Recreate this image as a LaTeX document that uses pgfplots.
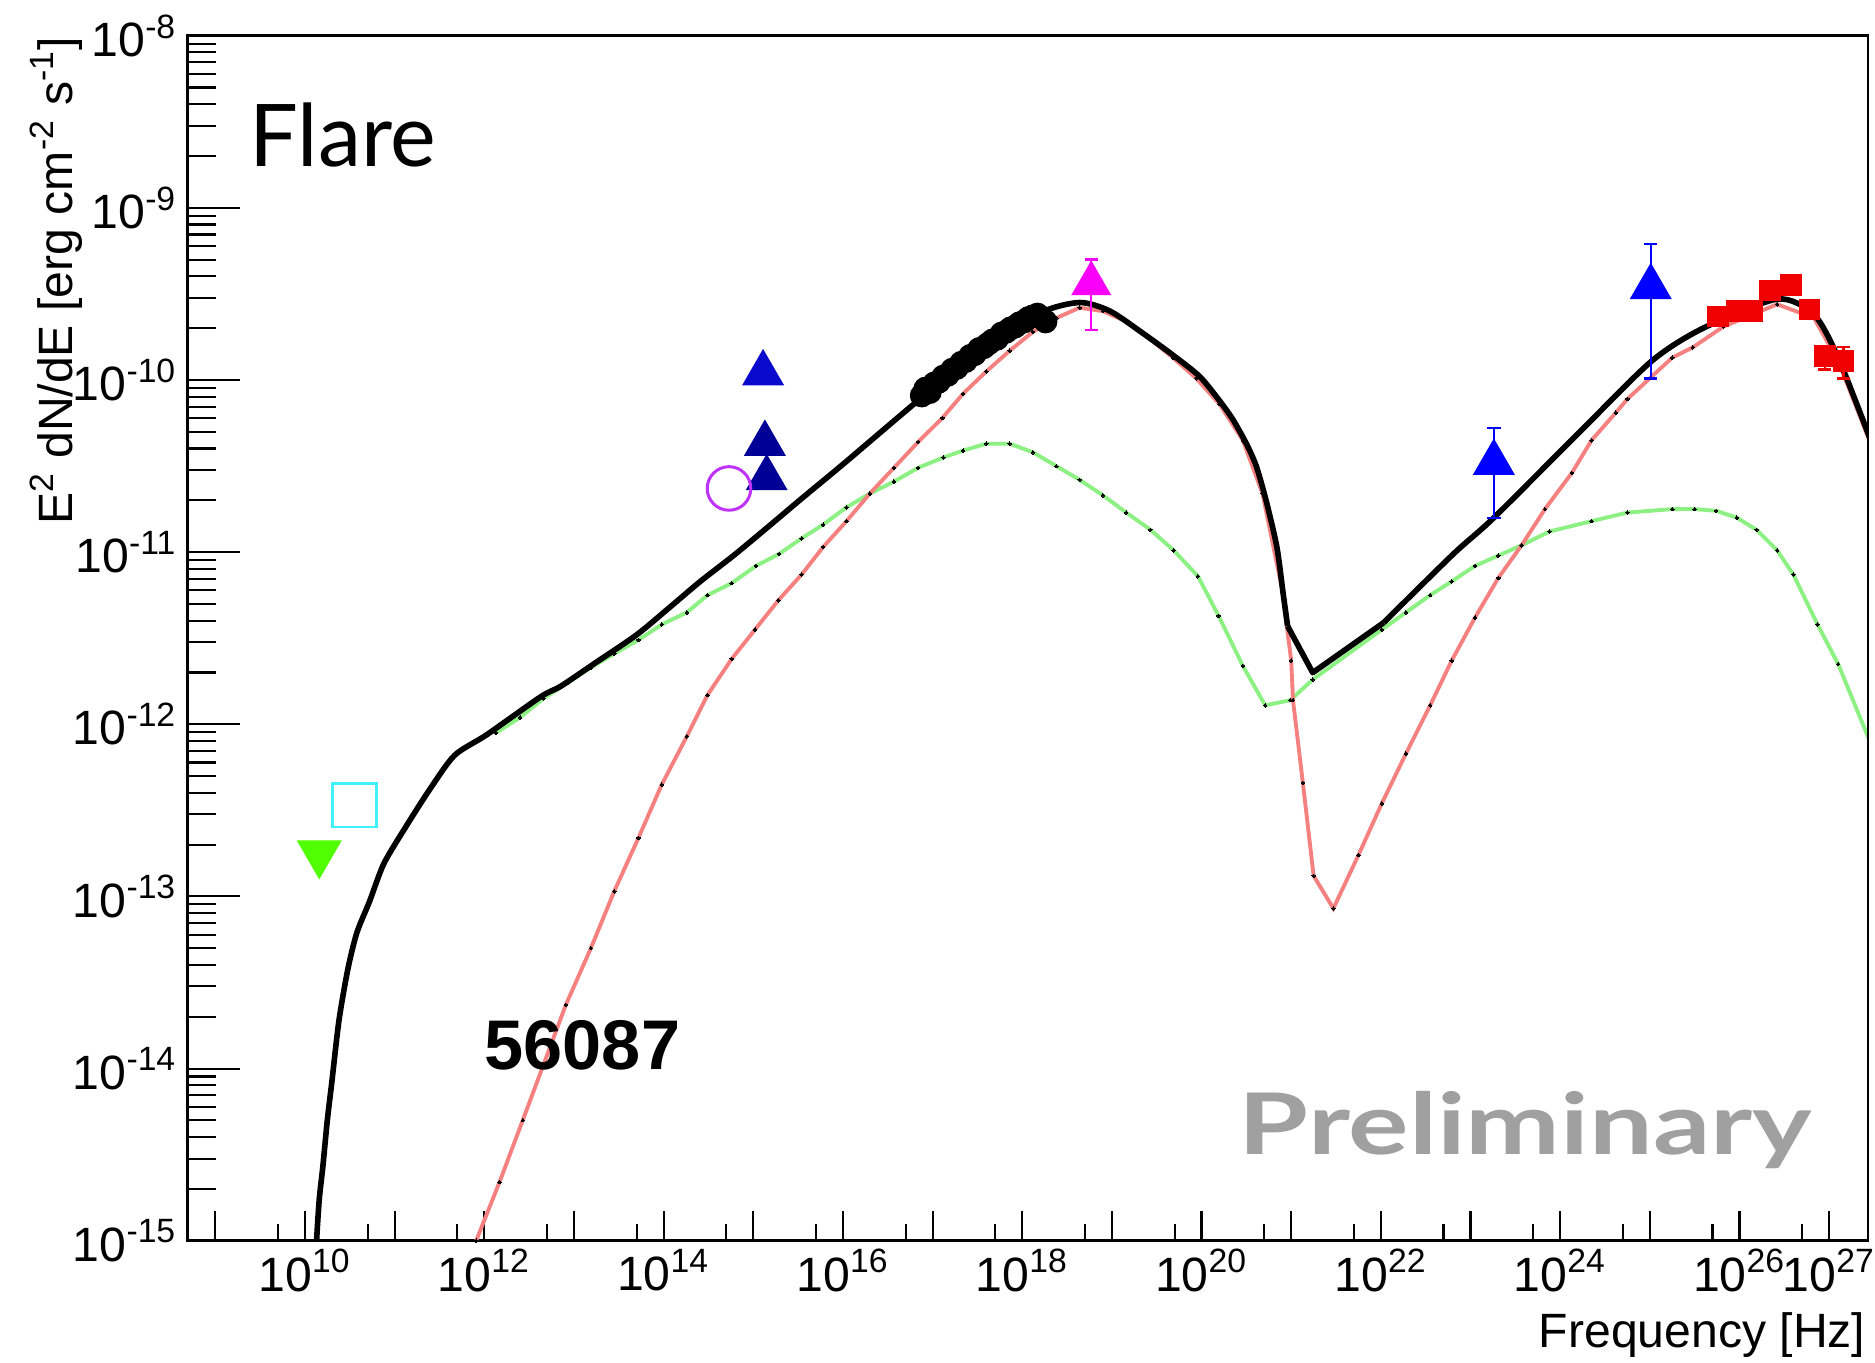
\documentclass[border=0pt]{standalone}
\usepackage{fontspec}
\setmainfont{Liberation Sans}
\newfontfamily\gill{Lato}
\usepackage{pgfplots}
\usepackage{pgfplotstable}
\pgfplotsset{compat=1.18}

\newcommand\lab{\fontsize{13.7}{16}\selectfont}
\newcommand\tl[1]{10\textsuperscript{#1}}

\definecolor{mred}{RGB}{245,128,128}
\definecolor{mgreen}{RGB}{140,240,130}
\definecolor{dblue}{RGB}{0,0,150}
\definecolor{mblue}{RGB}{10,10,205}
\definecolor{bblue}{RGB}{0,0,255}
\definecolor{magen}{RGB}{250,0,250}
\definecolor{violetc}{RGB}{190,50,250}
\definecolor{cyanc}{RGB}{64,240,250}
\definecolor{lgreen}{RGB}{80,255,0}
\definecolor{dred}{RGB}{240,0,0}
\definecolor{prelim}{RGB}{160,160,160}

% total model (log10 nu, log10 nuFnu)
\pgfplotstableread{
lx ly
10.10 -15.30
10.13 -15.00
10.16 -14.76
10.20 -14.57
10.25 -14.30
10.30 -14.08
10.38 -13.72
10.48 -13.42
10.58 -13.21
10.72 -13.03
10.88 -12.81
11.12 -12.60
11.39 -12.38
11.67 -12.18
12.03 -12.06
12.63 -11.84
12.85 -11.78
13.22 -11.65
13.70 -11.48
14.07 -11.32
14.41 -11.17
14.78 -11.02
15.15 -10.86
15.56 -10.68
16.00 -10.49
16.93 -10.08
17.56 -9.83
18.20 -9.61
18.64 -9.55
18.98 -9.60
19.35 -9.73
19.68 -9.855
19.98 -9.98
20.20 -10.12
20.35 -10.23
20.50 -10.37
20.61 -10.50
20.72 -10.70
20.84 -10.97
20.91 -11.24
20.96 -11.43
}\blackA
\pgfplotstableread{
lx ly
20.96 -11.43
21.24 -11.70
22.03 -11.41
}\blackB
\pgfplotstableread{
lx ly
22.03 -11.41
22.81 -11.01
23.26 -10.80
24.24 -10.29
25.02 -9.89
25.59 -9.70
26.42 -9.53
26.83 -9.62
27.10 -9.87
27.47 -10.36
}\blackC

% red component
\pgfplotstableread{
lx ly
11.80 -15.16
11.91 -15.00
12.17 -14.66
12.43 -14.30
12.91 -13.63
13.19 -13.30
13.45 -12.97
13.72 -12.66
13.98 -12.35
14.26 -12.07
14.49 -11.83
14.76 -11.62
15.02 -11.45
15.28 -11.28
15.54 -11.13
15.78 -10.97
16.04 -10.82
16.30 -10.66
16.57 -10.51
16.84 -10.36
17.11 -10.22
17.34 -10.08
17.60 -9.95
17.86 -9.83
18.12 -9.72
18.38 -9.64
18.64 -9.58
18.90 -9.60
19.16 -9.66
19.42 -9.76
19.68 -9.87
19.94 -9.99
20.20 -10.14
20.46 -10.35
20.68 -10.66
20.90 -11.22
21.00 -11.63
21.02 -11.86
21.13 -12.34
21.25 -12.88
21.47 -13.07
21.75 -12.76
22.01 -12.46
22.28 -12.17
22.55 -11.89
22.79 -11.63
23.05 -11.38
23.31 -11.15
23.57 -10.96
23.83 -10.75
24.13 -10.54
24.35 -10.35
24.62 -10.19
24.75 -10.11
25.25 -9.87
25.48 -9.81
25.82 -9.69
26.42 -9.56
26.83 -9.64
27.10 -9.89
27.47 -10.38
}\redc

% green component
\pgfplotstableread{
lx ly
12.13 -12.05
12.40 -11.96
12.66 -11.85
12.93 -11.76
13.19 -11.67
13.45 -11.59
13.72 -11.51
13.98 -11.42
14.26 -11.35
14.49 -11.25
14.76 -11.18
15.03 -11.08
15.29 -11.01
15.54 -10.92
15.78 -10.84
16.04 -10.74
16.30 -10.66
16.57 -10.59
16.84 -10.51
17.12 -10.45
17.34 -10.41
17.60 -10.37
17.86 -10.37
18.12 -10.42
18.38 -10.50
18.64 -10.58
18.90 -10.67
19.16 -10.77
19.43 -10.87
19.69 -10.99
19.96 -11.14
20.19 -11.37
20.46 -11.66
20.71 -11.89
20.99 -11.86
21.24 -11.74
22.01 -11.45
22.28 -11.35
22.55 -11.25
22.79 -11.17
23.05 -11.08
23.31 -11.02
23.57 -10.96
23.88 -10.88
24.35 -10.82
24.75 -10.77
25.25 -10.75
25.50 -10.75
25.74 -10.76
25.97 -10.80
26.19 -10.87
26.42 -10.99
26.60 -11.13
26.87 -11.42
27.10 -11.65
27.47 -12.12
}\greenc

% X-ray data points (black)
\pgfplotstableread{
lx ly
16.88 -10.09
16.92 -10.05
16.97 -10.07
17.02 -10.02
17.07 -10.01
17.12 -9.98
17.17 -9.97
17.22 -9.94
17.27 -9.93
17.32 -9.90
17.37 -9.89
17.42 -9.86
17.47 -9.85
17.52 -9.82
17.57 -9.81
17.62 -9.79
17.67 -9.77
17.72 -9.76
17.77 -9.73
17.82 -9.72
17.87 -9.70
17.92 -9.69
17.97 -9.67
18.02 -9.66
18.07 -9.64
18.12 -9.63
18.17 -9.62
18.26 -9.66
}\bdata

\begin{document}
\begin{tikzpicture}
\path[use as bounding box] (0,0) rectangle (18.75,13.63);

\begin{axis}[
  at={(1.877cm,1.223cm)}, anchor=south west,
  scale only axis, width=16.80cm, height=12.05cm,
  xmode=log, ymode=log,
  xmin=4.93e8, xmax=2.69e27, ymin=1e-15, ymax=1e-8,
  tick pos=left, tick align=inside,
  axis line style={line width=0.7pt},
  tick style={black, line width=0.6pt},
  xtick={1e9,1e10,1e11,1e12,1e13,1e14,1e15,1e16,1e17,1e18,1e19,1e20,1e21,1e22,1e23,1e24,1e25,1e26,1e27},
  xticklabels={{},\tl{10},{},\tl{12},{},\tl{14},{},\tl{16},{},\tl{18},{},\tl{20},{},\tl{22},{},\tl{24},{},\tl{26},\tl{27}},
  minor xtick={5e9,5e10,5e11,5e12,5e13,5e14,5e15,5e16,5e17,5e18,5e19,5e20,5e21,5e22,5e23,5e24,5e25,5e26},
  major tick length=0.30cm, minor tick length=0.17cm,
  ytick=\empty,
  xticklabel style={font=\lab, inner sep=0pt, anchor=north, yshift=-0.08cm},
]
% model components
\addplot[mgreen, line width=1.1pt, mark=*, mark size=0.5pt,
  mark options={black, fill=black, line width=0pt}]
  table[x expr=10^\thisrow{lx}, y expr=10^\thisrow{ly}] {\greenc};
\addplot[mred, line width=1.1pt, mark=*, mark size=0.5pt,
  mark options={black, fill=black, line width=0pt}]
  table[x expr=10^\thisrow{lx}, y expr=10^\thisrow{ly}] {\redc};
% total
\addplot[black, line width=1.6pt, smooth, tension=0.45, line join=round]
  table[x expr=10^\thisrow{lx}, y expr=10^\thisrow{ly}] {\blackA};
\addplot[black, line width=1.6pt, line join=round]
  table[x expr=10^\thisrow{lx}, y expr=10^\thisrow{ly}] {\blackB};
\addplot[black, line width=1.6pt, smooth, tension=0.45, line join=round]
  table[x expr=10^\thisrow{lx}, y expr=10^\thisrow{ly}] {\blackC};

% X-ray points
\addplot[only marks, mark=*, mark size=3.2pt, black]
  table[x expr=10^\thisrow{lx}, y expr=10^\thisrow{ly}] {\bdata};

% optical / UV triangles
\addplot[only marks, mark=triangle*, mark size=6.5pt, mblue] coordinates {(1.288e15,1.096e-10)};
\addplot[only marks, mark=triangle*, mark size=6.5pt, dblue] coordinates {(1.349e15,4.266e-11) (1.413e15,2.692e-11)};
% open circle
\addplot[only marks, mark=o, mark size=6.2pt, violetc, line width=0.85pt] coordinates {(5.370e14,2.344e-11)};
% radio
\addplot[only marks, mark=square, mark size=6.2pt, cyanc, line width=0.85pt] coordinates {(3.548e10,3.388e-13)};
\addplot[only marks, mark=triangle*, mark size=7pt, lgreen, mark options={rotate=180}] coordinates {(1.445e10,1.778e-13)};

% hard X-ray point
\addplot[only marks, mark=triangle*, mark size=6.2pt, magen,
  error bars/.cd, y dir=both, y explicit,
  error bar style={line width=0.6pt, magen},
  error mark options={rotate=90, mark size=1.9pt, line width=0.6pt, magen}]
  coordinates {(5.89e18,3.63e-10) += (0,1.38e-10) -= (0,1.68e-10)};

% Fermi points
\addplot[only marks, mark=triangle*, mark size=6.5pt, bblue,
  error bars/.cd, y dir=both, y explicit,
  error bar style={line width=0.6pt, bblue},
  error mark options={rotate=90, mark size=1.9pt, line width=0.6pt, bblue}]
  coordinates {(1.82e23,3.31e-11) += (0,1.94e-11) -= (0,1.725e-11)
               (1.023e25,3.47e-10) += (0,2.70e-10) -= (0,2.45e-10)};

% VHE points
\addplot[only marks, mark=square*, mark size=2.9pt, dred,
  error bars/.cd, y dir=both, y explicit,
  error bar style={line width=0.6pt, dred},
  error mark options={rotate=90, mark size=1.9pt, line width=0.6pt, dred}]
  coordinates {
   (5.75e25,2.34e-10) +=(0,0) -=(0,0)
   (9.33e25,2.51e-10) +=(0,0) -=(0,0)
   (1.38e26,2.51e-10) +=(0,0) -=(0,0)
   (2.19e26,3.31e-10) +=(0,0) -=(0,0)
   (3.72e26,3.55e-10) +=(0,0) -=(0,0)
   (6.03e26,2.57e-10) +=(0,0) -=(0,0)
   (8.91e26,1.38e-10) +=(0,2.0e-11) -=(0,2.3e-11)
   (1.445e27,1.29e-10) +=(0,2.6e-11) -=(0,2.7e-11)
  };
\end{axis}

% y ticks (separate lengths)
\begin{axis}[
  at={(1.877cm,1.223cm)}, anchor=south west,
  scale only axis, width=16.80cm, height=12.05cm,
  xmode=log, ymode=log,
  xmin=4.93e8, xmax=2.69e27, ymin=1e-15, ymax=1e-8,
  tick pos=left, tick align=inside,
  axis line style={line width=0.7pt},
  tick style={black, line width=0.6pt},
  hide x axis,
  ytick={1e-15,1e-14,1e-13,1e-12,1e-11,1e-10,1e-9,1e-8},
  yticklabels={\tl{-15},\tl{-14},\tl{-13},\tl{-12},\tl{-11},\tl{-10},\tl{-9},\tl{-8}},
  minor ytick={2e-15,3e-15,4e-15,5e-15,6e-15,7e-15,8e-15,9e-15,
               2e-14,3e-14,4e-14,5e-14,6e-14,7e-14,8e-14,9e-14,
               2e-13,3e-13,4e-13,5e-13,6e-13,7e-13,8e-13,9e-13,
               2e-12,3e-12,4e-12,5e-12,6e-12,7e-12,8e-12,9e-12,
               2e-11,3e-11,4e-11,5e-11,6e-11,7e-11,8e-11,9e-11,
               2e-10,3e-10,4e-10,5e-10,6e-10,7e-10,8e-10,9e-10,
               2e-9,3e-9,4e-9,5e-9,6e-9,7e-9,8e-9,9e-9},
  major tick length=0.52cm, minor tick length=0.28cm,
  yticklabel style={font=\lab, inner sep=0pt, anchor=east, xshift=-0.1cm},
]
\addplot[draw=none] coordinates {(1e10,1e-10)};
\end{axis}

% axis titles
\node[rotate=90, anchor=base east, inner sep=0pt, font=\lab] at (0.72,13.27)
  {E\textsuperscript{2} dN/dE [erg cm\textsuperscript{-2} s\textsuperscript{-1}]};
\node[anchor=base east, inner sep=0pt, font=\lab] at (18.66,0.15) {Frequency [Hz]};

% annotations
\node[anchor=base west, inner sep=0pt, font=\gill\fontsize{24.6}{28}\selectfont] at (2.49,11.96) {Flare};
\node[anchor=base west, inner sep=0pt, font=\bfseries\fontsize{20}{24}\selectfont] at (4.84,2.93) {56087};
\node[anchor=base west, inner sep=0pt, xscale=1.33, text=prelim, font=\gill\bfseries\fontsize{24.2}{28}\selectfont] at (12.38,2.08) {Preliminary};
\node[anchor=base, inner sep=0pt, font=\gill\fontsize{24.6}{28}\selectfont] at (14.89,14.01) {g};
\end{tikzpicture}
\end{document}
